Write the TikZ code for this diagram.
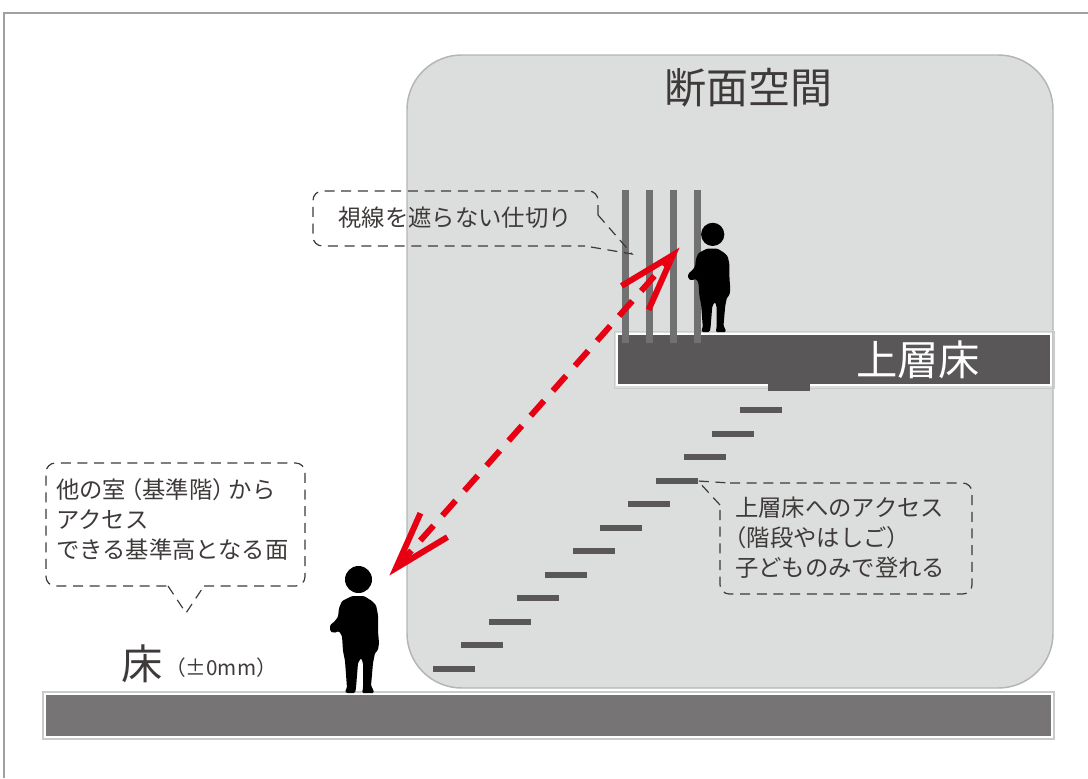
\documentclass[tikz,border=0pt]{standalone}
\usepackage{fontspec}
\setmainfont{Noto Sans CJK JP}
\usetikzlibrary{calc}

\definecolor{ink}{HTML}{3E3A39}
\definecolor{panel}{HTML}{DCDDDD}
\definecolor{panelline}{HTML}{B5B5B6}
\definecolor{slabdark}{HTML}{595757}
\definecolor{slabmid}{HTML}{777475}
\definecolor{slabedge}{HTML}{C9CACA}
\definecolor{bar}{HTML}{727171}
\definecolor{sightred}{HTML}{E60012}
\definecolor{framegray}{HTML}{9FA0A0}

% tightened full-width parentheses
\newcommand{\lpar}{\kern-0.3em（}
\newcommand{\rpar}{）\kern-0.3em}

\tikzset{
  callout/.style={draw=ink, line width=0.9pt, dash pattern=on 7.5pt off 5pt},
  soft/.style={rounded corners=7pt},
  note/.style={text=ink, font=\fontsize{17.5}{22.5}\selectfont, inner sep=0pt, align=left},
  sight/.style={draw=sightred, line width=4.5pt},
  tread/.style={fill=slabdark},
  kid/.pic={
    \fill[black] (-1.5,-113.5) circle (13.5);
    \fill[black, rounded corners=1pt]
      (-8,-97) -- (-18,-92) -- (-21,-85) -- (-22,-76) -- (-26,-71) -- (-30,-68)
      -- (-30,-62) -- (-26,-60) -- (-21,-62) -- (-18,-57) -- (-17,-42) -- (-15,-32)
      -- (-13,-5) -- (-15,-2) -- (-14,0) -- (-5,0) -- (-4,-5) -- (-2,-30) -- (1,-35)
      -- (3,-30) -- (3,-5) -- (2,0) -- (14,0) -- (13,-4) -- (11,-7) -- (13,-30)
      -- (15,-40) -- (18,-43) -- (19,-50) -- (18,-62) -- (18,-78) -- (16,-88)
      -- (12,-92) -- (4,-97) -- cycle;
  }
}

\begin{document}
\begin{tikzpicture}[x=0.75pt, y=-0.75pt]
\useasboundingbox (0,0) rectangle (1088,778);

% outer frame (top and left edges)
\draw[framegray, line width=0.8pt] (4,778) -- (4,13) -- (1088,13);

% section space panel
\draw[fill=panel, draw=panelline, line width=1.1pt, rounded corners=41pt]
  (407,55) rectangle (1053,688);
\node[text=ink, font=\fontsize{31.5}{32}\selectfont, inner sep=0pt] (title) at (748,88) {断面空間};

% ground floor slab
\draw[fill=white, draw=slabedge, line width=0.8pt] (43,692) rectangle (1054,739);
\fill[slabmid] (46,695) rectangle (1051,736);
\node[text=ink, font=\fontsize{31}{32}\selectfont, inner sep=0pt] (floor) at (142,664) {床};
\node[text=ink, font=\fontsize{15.5}{16}\selectfont, inner sep=0pt] (level) at (221,668) {（±0mm）};

% upper floor slab with its stair landing block
\draw[slabedge, line width=0.5pt] (614,331) rectangle (1054,388);
\draw[fill=slabdark, draw=white, line width=2pt] (617,334) rectangle (1051,385);
\fill[slabdark] (768,383.5) rectangle (810,391);
\node[text=white, font=\fontsize{31}{32}\selectfont, inner sep=0pt] (upper) at (918,360) {上層床};

% stair treads
\foreach \i in {0,...,11} {
  \fill[tread] ({433+27.9*\i},{666-23.55*\i}) rectangle ++(42,6);
}
\coordinate (treadtip) at (698,481);

% see-through partition
\foreach \x in {625,649,673,697} {
  \fill[bar] ({\x-3.5},190) rectangle ({\x+3.5},343);
}

% children
\pic (kidlow) at (360,693) {kid};
\pic[scale=0.86] (kidup) at (714,332) {kid};

% line of sight between the two levels
\coordinate (eyeup) at (673,255);
\coordinate (eyelow) at (396,568);
\draw[sight, dash pattern=on 15pt off 10pt, dash phase=4pt] (eyeup) -- (eyelow);
\draw[sight, line join=miter] ($(eyeup)!45pt!17.5:(eyelow)$) -- (eyeup) -- ($(eyeup)!45pt!-17.5:(eyelow)$);
\draw[sight, line join=miter] ($(eyelow)!45pt!17.5:(eyeup)$) -- (eyelow) -- ($(eyelow)!45pt!-17.5:(eyeup)$);

% callout: partition
\node[note] (notepart) at (455,218) {視線を遮らない仕切り};
\coordinate (partptr) at (632,254);
\draw[callout, soft] (598,215) -- (598,191) -- (313,191) -- (313,246) -- (585,246);
\draw[callout] (598,215) -- (partptr) -- (585,246);

% callout: base floor
\node[note, anchor=west] (notebase) at (56,519) {他の室\lpar 基準階\rpar から\\アクセス\\できる基準高となる面};
\coordinate (baseptr) at (186,613);
\draw[callout, soft] (204,586) -- (305,586) -- (305,463) -- (46,463) -- (46,586) -- (168,586);
\draw[callout] (168,586) -- (baseptr) -- (204,586);

% callout: stair access
\node[note, anchor=west] (notestair) at (735,538) {上層床へのアクセス\\\kern-0.2em\lpar 階段やはしご\rpar\\子どものみで登れる};
\draw[callout, soft] (730,483) -- (972,483) -- (972,594) -- (720,594) -- (720,505);
\draw[callout] (720,505) -- (treadtip) -- (730,483);
\end{tikzpicture}
\end{document}
